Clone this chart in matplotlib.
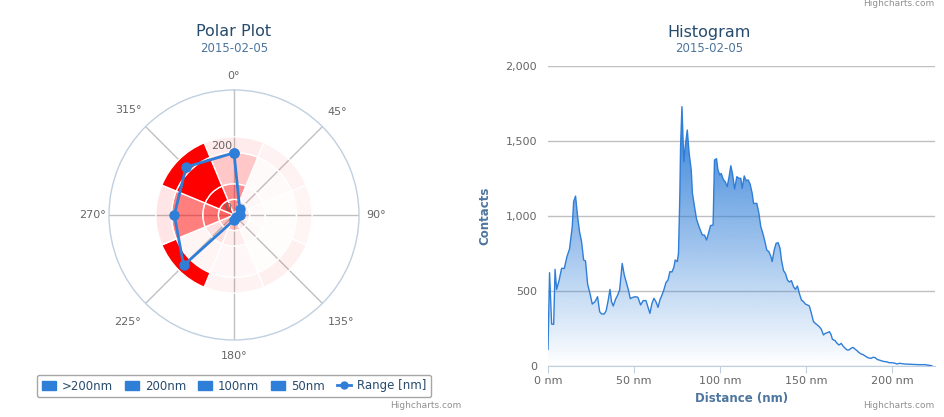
import numpy as np
import matplotlib.pyplot as plt
from matplotlib.patches import Patch
from matplotlib.lines import Line2D
from matplotlib.colors import to_rgb

hc_blue = '#2f7ed8'
title_col = '#274b6d'
sub_col = '#4d759e'
label_col = '#666666'
grid_col = '#c0c0c0'
axis_col = '#c0d0e0'

plt.rcParams['font.family'] = ['DejaVu Sans']

# ---- polar data
directions = [0, 45, 90, 135, 180, 225, 270, 315]
dir_labels = ['0°', '45°', '90°', '135°', '180°', '225°', '270°', '315°']
series_names = ['>200nm', '200nm', '100nm', '50nm']

# stacked sizes (bottom -> top: 50nm, 100nm, 200nm, >200nm)
size_50nm = [50, 50, 50, 50, 50, 50, 50, 50]
size_100nm = [50, 50, 50, 50, 50, 50, 50, 50]
size_200nm = [100, 100, 100, 100, 100, 100, 100, 100]
size_gt200 = [50, 50, 50, 50, 50, 50, 50, 50]

# per point opacity of the red fill
op_50nm = [0.45, 0.10, 0.08, 0.08, 0.25, 0.25, 0.60, 0.75]
op_100nm = [0.45, 0.03, 0.02, 0.02, 0.07, 0.12, 0.55, 1.0]
op_200nm = [0.22, 0.02, 0.01, 0.01, 0.03, 0.04, 0.50, 1.0]
op_gt200 = [0.08, 0.05, 0.04, 0.06, 0.05, 1.0, 0.10, 1.0]

range_nm = [199, 26, 19, 10, 16, 228, 191, 217]

# ---- histogram data (distance nm, contacts)
hist_nm = [0, 0.9, 2.1, 3.3, 4.1, 5, 6.4, 7.9, 9.5, 11, 12.5, 14.1, 14.9, 16, 17.2,
           18.3, 19.5, 20.7, 21.8, 23, 24.6, 25.7, 27.3, 28.8, 30, 31.1, 32.7, 33.8,
           35, 36, 36.9, 37.9, 39.2, 40.4, 41.6, 43.1, 44.3, 45.4, 46.6, 47.8, 49.3,
           50.9, 52.2, 53.8, 55.3, 56.9, 58, 59.2, 60.4, 61.5, 62.7, 63.9, 65, 66.2,
           67.3, 68.5, 69.7, 70.8, 72, 73.1, 73.9, 75.1, 75.8, 76.6, 77, 77.8, 78.9,
           79.7, 80.9, 82, 83.2, 83.9, 85.1, 86.3, 87.4, 88.6, 89.7, 90.9, 92.1, 93.2,
           94.4, 95.9, 96.7, 97.9, 98.7, 99.8, 100.6, 101.8, 102.9, 104.1, 105.2,
           106.2, 107.2, 108.4, 109.7, 110.9, 112, 112.8, 114, 115.1, 116.3, 117.4,
           118.6, 119.4, 120.5, 121.3, 122.5, 123.6, 124.8, 126, 127.1, 128.3, 129.5,
           130.2, 131.4, 132.5, 133.7, 134.8, 135.6, 136.8, 137.9, 139.1, 140.2,
           141.4, 142.6, 143.7, 144.9, 146, 147.2, 148.4, 149.5, 150.7, 151.8, 153,
           154.2, 155.3, 156.5, 157.6, 158.8, 160, 161.1, 162.3, 163.5, 164.5, 165.2,
           166.8, 167.9, 169.1, 170.3, 171.4, 172.6, 173.7, 174.9, 176, 177.2, 178.4,
           179.5, 180.7, 181.9, 183, 184.2, 185.4, 186.5, 187.7, 188.8, 190, 191.2,
           192.3, 193.5, 194.7, 195.8, 197, 198.1, 199.7, 201.6, 202.8, 204, 207.5,
           211.3, 215.2, 219, 221, 222.9]
hist_contacts = [111, 622, 280, 278, 644, 511, 569, 651, 651, 729, 780, 929, 1096, 1133,
                 996, 896, 829, 707, 700, 547, 473, 413, 429, 462, 362, 347, 347, 369,
                 440, 511, 429, 400, 444, 471, 507, 684, 607, 562, 511, 449, 458, 462,
                 458, 407, 436, 436, 396, 351, 418, 451, 429, 391, 440, 473, 507, 556,
                 573, 629, 627, 658, 707, 696, 751, 1151, 1462, 1729, 1362, 1462, 1573,
                 1418, 1307, 1151, 1062, 978, 940, 902, 873, 873, 840, 884, 936, 940,
                 1373, 1382, 1307, 1273, 1284, 1244, 1229, 1196, 1262, 1335, 1280, 1180,
                 1262, 1251, 1251, 1184, 1267, 1236, 1240, 1213, 1151, 1084, 1084, 1084,
                 1018, 929, 884, 829, 773, 762, 729, 696, 773, 818, 822, 784, 707, 636,
                 618, 573, 560, 569, 529, 511, 533, 484, 440, 429, 413, 407, 400, 351,
                 296, 284, 273, 262, 244, 207, 218, 222, 229, 207, 178, 169, 151, 140,
                 151, 133, 118, 107, 107, 118, 124, 113, 102, 89, 80, 76, 67, 58, 53, 51,
                 58, 56, 44, 40, 36, 31, 29, 27, 22, 22, 18, 13, 18, 13, 11, 9, 9, 5, 2]

x_ticks = [0, 50, 100, 150, 200]
x_ticklabels = ['0 nm', '50 nm', '100 nm', '150 nm', '200 nm']
y_ticks = [0, 500, 1000, 1500, 2000]
y_ticklabels = ['0', '500', '1,000', '1,500', '2,000']

W, H = 945, 417
fig = plt.figure(figsize=(W / 100, H / 100), dpi=100)

# ================= polar plot
ax = fig.add_axes([109 / W, (H - 340) / H, 250 / W, 250 / H], projection='polar')
ax.set_theta_zero_location('N')
ax.set_theta_direction(-1)
ax.set_ylim(0, 400)
ax.grid(False)
ax.set_xticks([])
ax.set_yticks([])
ax.spines['polar'].set_color(axis_col)
ax.spines['polar'].set_linewidth(1)

theta = np.radians(directions)
for t in theta:
    ax.plot([t, t], [0, 400], color=grid_col, lw=1, zorder=0.5)

width = np.radians(45)
bottom = np.zeros(len(directions))
for sizes, ops in [(size_50nm, op_50nm), (size_100nm, op_100nm),
                   (size_200nm, op_200nm), (size_gt200, op_gt200)]:
    cols = [(1, 0, 0, a) for a in ops]
    ax.bar(theta, sizes, width=width, bottom=bottom, color=cols,
           edgecolor='white', linewidth=1, zorder=2)
    bottom = bottom + np.array(sizes)

t_closed = np.append(theta, theta[0])
r_closed = np.append(range_nm, range_nm[0])
ax.plot(t_closed, r_closed, color=hc_blue, lw=2, marker='o', ms=6.5, zorder=5)

lab_r = [445, 467, 454, 483, 451, 483, 454, 477]
for t, lab, rr in zip(theta, dir_labels, lab_r):
    ax.text(t, rr, lab, ha='center', va='center', fontsize=8, color=label_col,
            clip_on=False)
ax.text(np.radians(-10), 224, '200', ha='center', va='center', fontsize=8,
        color=label_col, zorder=6)
ax.text(np.radians(-40), 29, '0', ha='center', va='center', fontsize=8,
        color=label_col, zorder=6)

fig.text(234 / W, 1 - 32 / H, 'Polar Plot', ha='center', va='center',
         fontsize=11.5, color=title_col)
fig.text(234 / W, 1 - 48 / H, '2015-02-05', ha='center', va='center',
         fontsize=8.5, color=sub_col)

handles = [Patch(facecolor=hc_blue, edgecolor=hc_blue) for _ in series_names]
handles.append(Line2D([0], [0], color=hc_blue, lw=2, marker='o', ms=5))
leg = fig.legend(handles, series_names + ['Range [nm]'], loc='center',
                 bbox_to_anchor=(234 / W, 1 - 386 / H), ncol=5, fontsize=8.5,
                 frameon=True, edgecolor='#909090', handlelength=1.2,
                 handleheight=0.9, columnspacing=1.0, handletextpad=0.5,
                 borderpad=0.4)
leg.get_frame().set_linewidth(1)
for txt in leg.get_texts():
    txt.set_color(title_col)

# ================= histogram
ax2 = fig.add_axes([548 / W, 51 / H, 387 / W, 300 / H])
ax2.set_zorder(0)
fill = ax2.fill_between(hist_nm, hist_contacts, color='none', lw=0)
ymax_fill = max(hist_contacts)
grad = np.zeros((256, 1, 4))
grad[..., :3] = to_rgb(hc_blue)
grad[:, 0, 3] = np.linspace(0, 1, 256)
img = ax2.imshow(grad, extent=[0, max(hist_nm), 0, ymax_fill], origin='lower',
                 aspect='auto', zorder=2)
img.set_clip_path(fill.get_paths()[0], transform=ax2.transData)
ax2.plot(hist_nm, hist_contacts, color=hc_blue, lw=1, zorder=3)

ax2.set_xlim(0, 224.8)
ax2.set_ylim(0, 2000)
for s in ['top', 'right', 'left']:
    ax2.spines[s].set_visible(False)
ax2.spines['bottom'].set_color(axis_col)
ax2.set_yticks(y_ticks)
ax2.set_yticklabels(y_ticklabels)
ax2.set_xticks(x_ticks)
ax2.set_xticklabels(x_ticklabels)
ax2.yaxis.grid(True, color=grid_col, lw=1)
ax2.set_axisbelow(True)
ax2.tick_params(axis='y', length=0, labelsize=8, labelcolor=label_col, pad=8)
ax2.tick_params(axis='x', length=5, color=axis_col, labelsize=8,
                labelcolor=label_col, pad=2)
ax2.set_xlabel('Distance (nm)', fontsize=8.5, fontweight='bold', color=sub_col)
ax2.set_ylabel('Contacts', fontsize=8.5, fontweight='bold', color=sub_col)
ax2.xaxis.set_label_coords(0.5, -0.087)
ax2.yaxis.set_label_coords(-0.147, 0.5)

fig.text(709 / W, 1 - 32 / H, 'Histogram', ha='center', va='center',
         fontsize=11.5, color=title_col)
fig.text(709 / W, 1 - 48 / H, '2015-02-05', ha='center', va='center',
         fontsize=8.5, color=sub_col)

for x, y in [(461, 405), (934, 405), (934, 4)]:
    fig.text(x / W, 1 - y / H, 'Highcharts.com', ha='right', va='center',
             fontsize=6.5, color='#909090')

fig.savefig('out.png', dpi=100)
